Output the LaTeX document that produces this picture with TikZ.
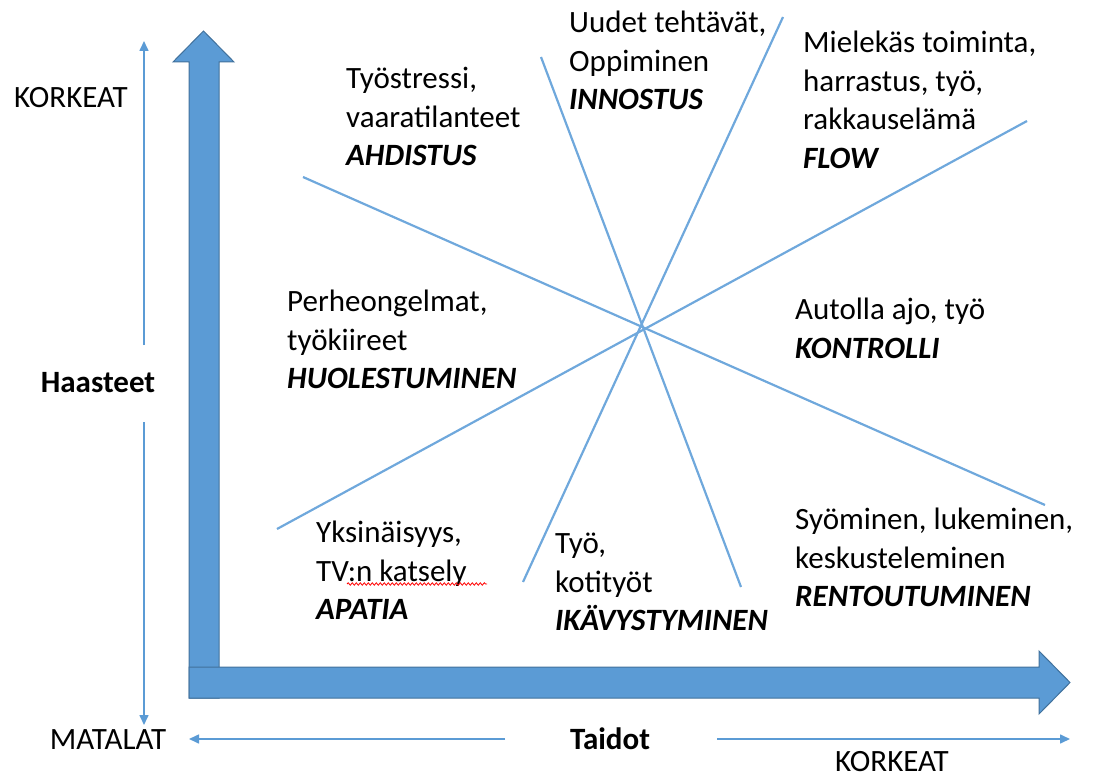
\documentclass[tikz,border=0pt]{standalone}
\usepackage{fontspec}
\setmainfont{Carlito}
\usetikzlibrary{arrows.meta,decorations.pathmorphing}
\definecolor{obl}{HTML}{5B9BD5}
\definecolor{obd}{HTML}{41719C}
\definecolor{lbl}{HTML}{6FA8DC}
\newcommand{\catf}{\bfseries\itshape}
\tikzset{
  bigarrow/.style={fill=obl,draw=obd,line width=1pt,line join=miter},
  thinarrow/.style={draw=obl,line width=1.6pt,-{Triangle[length=10pt,width=9pt]}},
  diag/.style={draw=lbl,line width=2.2pt},
  txt/.style={font=\fontsize{31}{38.5}\selectfont,inner sep=0pt,align=left,anchor=north west,text=black},
  lab/.style={font=\fontsize{31}{38.5}\selectfont,inner sep=0pt,anchor=center,text=black}
}
\begin{document}
\begin{tikzpicture}[x=1pt,y=-1pt]
\useasboundingbox (0,0) rectangle (1101,778);
% big axes arrows
\path[bigarrow] (189,698) -- (189,62) -- (173,62) -- (203.5,31) -- (234,62) -- (219,62) -- (219,698) -- cycle;
\path[bigarrow] (189,667) -- (1039,667) -- (1039,651) -- (1070,682.5) -- (1039,714) -- (1039,698) -- (189,698) -- cycle;
% diagonal lines
\coordinate (a1) at (303,177);  \coordinate (a2) at (1045,505);
\coordinate (b1) at (277,529);  \coordinate (b2) at (1027,121);
\coordinate (c1) at (541,57);   \coordinate (c2) at (741,587);
\coordinate (d1) at (783,17);   \coordinate (d2) at (523,582);
\draw[diag] (a1) -- (a2);
\draw[diag] (b1) -- (b2);
\draw[diag] (c1) -- (c2);
\draw[diag] (d1) -- (d2);
% thin axis arrows
\coordinate (vu0) at (144,345); \coordinate (vu1) at (144,41);
\coordinate (vd0) at (144,422); \coordinate (vd1) at (144,725);
\coordinate (hl0) at (505,739); \coordinate (hl1) at (189,739);
\coordinate (hr0) at (717,739); \coordinate (hr1) at (1070,739);
\draw[thinarrow] (vu0) -- (vu1);
\draw[thinarrow] (vd0) -- (vd1);
\draw[thinarrow] (hl0) -- (hl1);
\draw[thinarrow] (hr0) -- (hr1);
% axis labels
\node[lab] (korkv) at (71,98) {KORKEAT};
\node[lab,font=\fontsize{31}{38.5}\selectfont\bfseries] (haast) at (98,383) {Haasteet};
\node[lab] (matal) at (108,740) {MATALAT};
\node[lab,font=\fontsize{31}{38.5}\selectfont\bfseries] (taid) at (610,739) {Taidot};
\node[lab] (korkh) at (892,762) {KORKEAT};
% quadrant texts
\node[txt] (ahd) at (346,67) {Työstressi,\\vaaratilanteet\\{\catf AHDISTUS}};
\node[txt] (inn) at (569,11) {Uudet tehtävät,\\Oppiminen\\{\catf INNOSTUS}};
\node[txt] (flow) at (803,31) {Mielekäs toiminta,\\harrastus, työ,\\rakkauselämä\\{\catf FLOW}};
\node[txt] (huo) at (287,290) {Perheongelmat,\\työkiireet\\{\catf HUOLESTUMINEN}};
\node[txt] (kon) at (795,298) {Autolla ajo, työ\\{\catf KONTROLLI}};
\node[txt] (apa) at (316,521) {Yksinäisyys,\\TV:n katsely\\{\catf APATIA}};
\node[txt] (ika) at (555,533) {Työ,\\kotityöt\\{\catf IKÄVYSTYMINEN}};
\node[txt] (ren) at (795,508) {Syöminen, lukeminen,\\keskusteleminen\\{\catf RENTOUTUMINEN}};
% spell-check squiggle
\coordinate (sq0) at (347,584); \coordinate (sq1) at (487,584);
\draw[red,line width=0.8pt,decorate,decoration={snake,amplitude=1.2pt,segment length=4pt}] (sq0) -- (sq1);
\end{tikzpicture}
\end{document}
